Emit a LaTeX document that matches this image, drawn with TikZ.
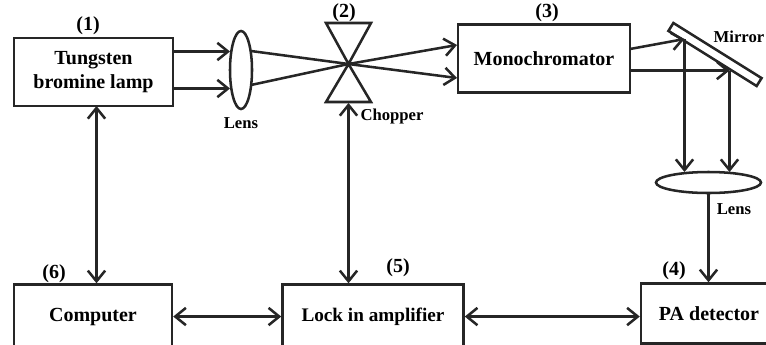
\documentclass[tikz,border=0pt]{standalone}
\usepackage{fontspec}
\setmainfont{Liberation Serif}
\usepackage{tikz}
\usetikzlibrary{arrows.meta, positioning, shapes.geometric}

\begin{document}
\begin{tikzpicture}[
        x=0.75pt, y=-0.75pt,
        node distance=132pt,
        box/.style={rectangle, draw=black!85, line width=1.9pt, text centered, inner sep=0pt, font=\fontsize{15}{18.5}\selectfont\bfseries},
        tag/.style={inner sep=0pt, font=\fontsize{15}{18}\selectfont\bfseries},
        note/.style={inner sep=0pt, font=\fontsize{12.5}{15}\selectfont\bfseries},
        lens/.style={ellipse, draw=black!85, line width=1.9pt, inner sep=0pt},
        line/.style={draw=black!85, line width=1.9pt, -{Straight Barb[length=8pt,width=13pt,line width=1.9pt]}},
        both/.style={draw=black!85, line width=1.9pt, {Straight Barb[length=8pt,width=13pt,line width=1.9pt]}-{Straight Barb[length=8pt,width=13pt,line width=1.9pt]}},
        ray/.style={draw=black!85, line width=1.9pt}
    ]
        \useasboundingbox (0,0) rectangle (766,344);

        \node [box, minimum width=119pt, minimum height=51pt, align=center] (lamp) at (93.5,72) {Tungsten\\bromine lamp};
        \node [box, minimum width=118.5pt, minimum height=48pt, below=of lamp, xshift=-0.4pt] (computer) {Computer};
        \node [box, minimum width=135.75pt, minimum height=48pt, right=81pt of computer, font=\fontsize{14.4}{18}\selectfont\bfseries] (lock) {Lock in amplifier};
        \node [box, minimum width=102pt, minimum height=45pt, right=131.25pt of lock, yshift=2.25pt] (pa) {PA detector};
        \node [box, minimum width=129pt, minimum height=51pt] (mono) at (544,58.5) {Monochromator};

        \node [lens, minimum width=16.5pt, minimum height=58.5pt] (lens1) at (241,70) {};
        \node [lens, minimum width=78.75pt, minimum height=15.75pt] (lens2) at (708.5,182.5) {};
        \node [draw=black!85, line width=1.9pt, rectangle, minimum width=78pt, minimum height=7pt, rotate=-32] (mirror) at (715,54.5) {};

        % chopper
        \coordinate (chop) at (348.5,64);
        \draw [ray, line join=miter] (chop) -- (326,23) -- (371,23) -- cycle;
        \draw [ray, line join=miter] (chop) -- (326,102) -- (371,102) -- cycle;
        \coordinate (chopfoot) at (348.5,103);

        % labels
        \node [tag] (n1) at (88,26) {(1)};
        \node [tag] (n2) at (344,13) {(2)};
        \node [tag] (n3) at (547,13) {(3)};
        \node [tag] (n4) at (674,271) {(4)};
        \node [tag] (n5) at (398,268) {(5)};
        \node [tag] (n6) at (54,274) {(6)};
        \node [note, below=5pt of lens1] (lenstext1) {Lens};
        \node [note] (choppertext) at (392,116) {Chopper};
        \node [note] (mirrortext) at (739,37) {Mirror};
        \node [note] (lenstext2) at (734,209) {Lens};

        % rays
        \coordinate (lampa) at (173,51.5);
        \coordinate (lampb) at (173,88.5);
        \coordinate (lensa) at (230,51.5);
        \coordinate (lensb) at (230,88.5);
        \coordinate (outa) at (251,51);
        \coordinate (outb) at (251,85);
        \coordinate (monoa) at (457,78);
        \coordinate (monob) at (457,45);
        \coordinate (exita) at (630,49);
        \coordinate (exitb) at (630,70.5);
        \coordinate (mirra) at (684.5,39);
        \coordinate (mirrb) at (729.5,70.5);
        \coordinate (lensc) at (684.5,172);
        \coordinate (lensd) at (729.5,172);
        \coordinate (lampfoot) at (96.5,106);

        \path [line] (lampa) -- (lensa);
        \path [line] (lampb) -- (lensb);
        \path [ray] (outa) -- (chop);
        \path [ray] (outb) -- (chop);
        \path [line] (chop) -- (monoa);
        \path [line] (chop) -- (monob);
        \path [line] (exita) -- (mirra);
        \path [line] (exitb) -- (mirrb);
        \path [line] (mirra) -- (lensc);
        \path [line] (mirrb) -- (lensd);
        \path [line] (lens2.south) -- (lens2.south |- pa.north);
        \path [both] (lampfoot) -- (lampfoot |- computer.north);
        \path [both] (chopfoot) -- (chopfoot |- lock.north);
        \path [both] (computer) -- (lock);
        \path [both] (lock) -- (lock -| pa.west);
    \end{tikzpicture}
\end{document}
